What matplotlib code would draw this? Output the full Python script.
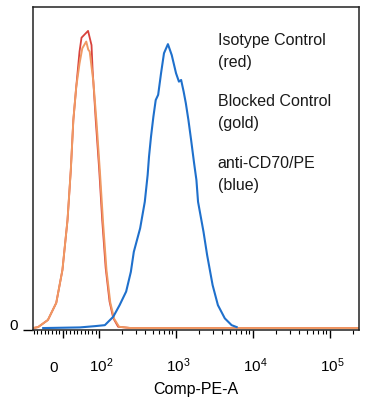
import numpy as np
import matplotlib
matplotlib.use("Agg")
import matplotlib.pyplot as plt

plt.rcParams['font.family'] = ['Liberation Sans', 'DejaVu Sans']
plt.rcParams['mathtext.default'] = 'regular'

# ---- data (fluorescence intensity, relative count) ----
red_x = [-82, -68, -41, -18, -1, 13, 22, 29, 37, 46, 51.5, 69.5, 79, 82, 90.6, 100.6,
         110, 122, 137, 153, 177, 260, 2000, 30000, 238000]
red_y = [0.6, 0.9, 3.1, 8.4, 18.6, 34.1, 49.5, 65, 75.3, 86.2, 90.5, 92.6, 88.2, 80.5,
         65, 49.5, 34, 19.2, 8.8, 3.7, 1.0, 0.6, 0.6, 0.6, 0.6]

gold_x = [-82, -68, -41, -18, -1, 13, 22, 29, 37, 46, 53.6, 64.5, 70, 74, 84, 93, 103,
          113, 125, 140, 157, 182, 260, 2000, 30000, 238000]
gold_y = [0.6, 0.9, 3.1, 8.4, 18.6, 34.1, 49.5, 65, 75.3, 82.5, 87.2, 89.3, 86.8, 86.2,
          77, 64, 48.5, 33, 18.5, 8.5, 3.5, 1.0, 0.6, 0.6, 0.6, 0.6]

blue_x = [-54, 47, 89, 119, 153, 185, 225, 259, 283, 342, 393, 428, 446, 473, 508, 545,
          586, 639, 698, 785, 880, 1000, 1091, 1165, 1256, 1341, 1449, 1571, 1718, 1841,
          1932, 2275, 2535, 2987, 3499, 4303, 5272, 6138]
blue_y = [0.6, 0.8, 1.2, 1.5, 4.1, 7.7, 11.9, 18.0, 24.2, 31.5, 39.7, 48.0, 53.7, 59.8,
          66.0, 71.2, 72.8, 79.5, 85.7, 88.5, 85.1, 79.5, 76.9, 77.4, 73.8, 70.2, 65.0,
          58.8, 51.6, 46.4, 39.7, 30.4, 23.2, 13.9, 7.7, 3.6, 1.5, 0.9]

major_ticks = [0, 100, 1000, 10000, 100000]
major_labels = ["0    ", r" $10^{2}$", r" $10^{3}$", r" $10^{4}$", r" $10^{5}$"]
minor_ticks = ([-80, -70, -60, -50, -40, -30, -20, -10, 10, 20, 30, 40, 50, 60, 70, 80, 90]
               + [m * 10 ** d for d in (2, 3, 4) for m in range(2, 10)] + [200000])

legend_lines = ["Isotype Control", "(red)", "Blocked Control", "(gold)",
                "anti-CD70/PE", "(blue)"]

# ---- biexponential-like scale (linear near zero, log above X0) ----
X0 = 92.0
L0 = np.log10(X0)
S = X0 * np.log(10)


def fwd(x):
    x = np.asarray(x, dtype=float)
    out = np.empty_like(x)
    m = x >= X0
    out[m] = np.log10(x[m])
    out[~m] = L0 + (x[~m] - X0) / S
    return out


def inv(y):
    y = np.asarray(y, dtype=float)
    out = np.empty_like(y)
    m = y >= L0
    out[m] = 10 ** y[m]
    out[~m] = X0 + (y[~m] - L0) * S
    return out


fig = plt.figure(figsize=(3.71, 4.0), dpi=100)
ax = fig.add_axes([33 / 371, 70 / 400, 326 / 371, 323 / 400])
ax.set_xscale('function', functions=(fwd, inv))

ax.plot(red_x, red_y, color='#d8423c', lw=1.3)
ax.plot(gold_x, gold_y, color='#f09862', lw=1.4)
ax.plot(blue_x, blue_y, color='#1f70cc', lw=1.5)

ax.set_xlim(-82, 238000)
ax.set_ylim(0, 100)

ax.set_xticks(major_ticks, major_labels)
ax.set_xticks(minor_ticks, minor=True)
ax.tick_params(axis='x', which='major', direction='out', length=5.4, width=1.0,
               labelsize=11, pad=24.5, colors='black')
ax.tick_params(axis='x', which='minor', direction='out', length=2.9, width=0.8)
for lbl in ax.xaxis.get_majorticklabels():
    lbl.set_verticalalignment('baseline')

ax.set_yticks([0], ["0"])
ax.tick_params(axis='y', which='major', direction='out', length=7.2, width=1.0,
               labelsize=11, pad=3.6)
for lbl in ax.yaxis.get_majorticklabels():
    lbl.set_verticalalignment('baseline')

for sp in ax.spines.values():
    sp.set_linewidth(1.1)
    sp.set_color('#222222')

ax.set_xlabel("Comp-PE-A", fontsize=11.5, labelpad=5.5)

ys = [0.8824, 0.8127, 0.6935, 0.6254, 0.5015, 0.4334]
for t, yy in zip(legend_lines, ys):
    ax.text(0.567, yy, t, transform=ax.transAxes, fontsize=11.5, ha='left',
            va='baseline', color='#1a1a1a')

fig.savefig("out.png", dpi=100)
